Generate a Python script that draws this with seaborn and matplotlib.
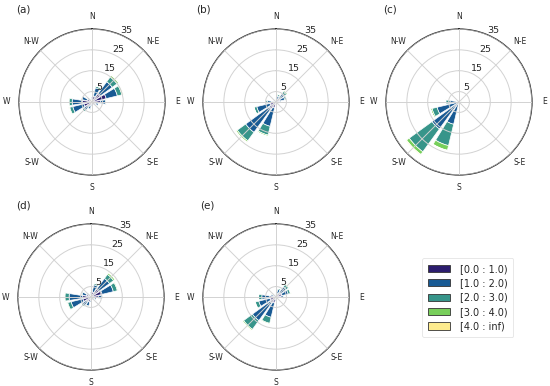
import numpy as np
import matplotlib
matplotlib.use("Agg")
import matplotlib.pyplot as plt
from matplotlib.patches import Patch
import seaborn as sns

sns.set_style("white")
plt.rcParams['font.family'] = ['DejaVu Sans']

# 16 sectors, clockwise from North
directions = ["N", "NNE", "NE", "ENE", "E", "ESE", "SE", "SSE",
              "S", "SSW", "SW", "WSW", "W", "WNW", "NW", "NNW"]
direction_deg = [0, 22.5, 45, 67.5, 90, 112.5, 135, 157.5,
                 180, 202.5, 225, 247.5, 270, 292.5, 315, 337.5]
speed_bins = ["[0.0 : 1.0)", "[1.0 : 2.0)", "[2.0 : 3.0)", "[3.0 : 4.0)", "[4.0 : inf)"]
compass_labels = ["N", "N-E", "E", "S-E", "S", "S-W", "W", "N-W"]
compass_deg = [0, 45, 90, 135, 180, 225, 270, 315]
radial_ticks = [5, 15, 25, 35]
panel_titles = ["(a)", "(b)", "(c)", "(d)", "(e)"]

# frequency (%) per speed bin (rows) and direction (columns)
freq_a = [
    [1.5, 3.0, 5.0, 7.0, 4.0, 2.0, 1.2, 1.2, 1.2, 2.0, 2.5, 4.0, 4.5, 2.5, 1.5, 1.2],
    [1.0, 4.0, 7.0, 5.5, 2.5, 1.2, 0.6, 0.6, 1.0, 1.5, 2.5, 5.5, 5.0, 2.5, 1.2, 0.6],
    [0.4, 0.8, 2.8, 2.2, 0.4, 0.3, 0.2, 0.2, 0.3, 0.4, 0.8, 1.5, 1.5, 0.4, 0.3, 0.2],
    [0.1, 0.2, 0.9, 0.6, 0.1, 0.05, 0.05, 0.05, 0.05, 0.1, 0.2, 0.4, 0.4, 0.1, 0.05, 0.05],
    [0.0, 0.05, 0.3, 0.2, 0.0, 0.0, 0.0, 0.0, 0.0, 0.0, 0.05, 0.1, 0.1, 0.0, 0.0, 0.0],
]
freq_b = [
    [1.0, 1.5, 2.0, 2.0, 1.5, 1.0, 0.8, 0.8, 1.0, 3.0, 4.0, 3.0, 2.0, 1.0, 0.8, 0.8],
    [0.7, 1.5, 3.0, 2.3, 1.0, 0.7, 0.5, 0.5, 0.7, 9.0, 14.0, 6.5, 2.2, 0.7, 0.5, 0.5],
    [0.2, 0.7, 1.3, 0.9, 0.4, 0.2, 0.15, 0.15, 0.25, 4.3, 5.0, 1.3, 0.7, 0.25, 0.15, 0.15],
    [0.05, 0.25, 0.6, 0.25, 0.1, 0.05, 0.0, 0.0, 0.05, 0.6, 0.7, 0.2, 0.1, 0.05, 0.0, 0.0],
    [0.0, 0.0, 0.1, 0.0, 0.0, 0.0, 0.0, 0.0, 0.0, 0.1, 0.3, 0.0, 0.0, 0.0, 0.0, 0.0],
]
freq_c = [
    [0.3, 0.3, 0.3, 0.3, 0.3, 0.3, 0.3, 0.3, 0.3, 1.0, 1.0, 0.8, 0.8, 0.4, 0.3, 0.3],
    [0.1, 0.3, 0.4, 0.3, 0.5, 0.3, 0.2, 0.3, 0.6, 10.0, 15.0, 10.0, 3.5, 0.6, 0.3, 0.1],
    [0.05, 0.1, 0.3, 0.2, 0.4, 0.2, 0.15, 0.2, 0.6, 10.5, 13.5, 2.5, 2.0, 0.4, 0.15, 0.05],
    [0.0, 0.0, 0.1, 0.0, 0.25, 0.0, 0.0, 0.1, 0.4, 2.3, 1.6, 0.7, 0.2, 0.0, 0.0, 0.0],
    [0.0, 0.0, 0.0, 0.0, 0.0, 0.0, 0.0, 0.0, 0.1, 0.2, 0.4, 0.0, 0.0, 0.0, 0.0, 0.0],
]
freq_d = [
    [1.5, 2.5, 4.5, 5.5, 3.5, 1.8, 1.2, 1.2, 1.5, 2.5, 2.5, 4.0, 4.0, 2.2, 1.5, 1.2],
    [1.0, 3.5, 6.5, 5.5, 2.0, 0.9, 0.6, 0.6, 1.1, 2.0, 2.7, 5.8, 6.5, 2.2, 1.1, 0.6],
    [0.4, 0.7, 2.4, 2.0, 0.4, 0.25, 0.15, 0.15, 0.3, 0.4, 0.6, 1.7, 2.0, 0.5, 0.3, 0.15],
    [0.1, 0.25, 0.8, 0.45, 0.1, 0.05, 0.0, 0.0, 0.1, 0.1, 0.2, 0.4, 0.4, 0.1, 0.05, 0.0],
    [0.0, 0.0, 0.3, 0.05, 0.0, 0.0, 0.0, 0.0, 0.0, 0.0, 0.0, 0.1, 0.1, 0.0, 0.0, 0.0],
]
freq_e = [
    [1.0, 1.7, 2.5, 3.0, 2.0, 1.0, 0.8, 0.8, 1.2, 3.0, 3.5, 3.0, 3.0, 1.5, 1.0, 0.8],
    [0.7, 2.0, 3.5, 3.0, 1.5, 0.7, 0.5, 0.5, 0.9, 7.0, 10.5, 5.5, 3.8, 1.1, 0.7, 0.5],
    [0.25, 0.6, 1.4, 1.1, 0.4, 0.25, 0.15, 0.15, 0.3, 3.0, 5.2, 1.7, 1.5, 0.35, 0.25, 0.15],
    [0.0, 0.15, 0.5, 0.35, 0.1, 0.0, 0.0, 0.0, 0.1, 0.45, 0.6, 0.3, 0.2, 0.05, 0.0, 0.0],
    [0.0, 0.0, 0.1, 0.05, 0.0, 0.0, 0.0, 0.0, 0.0, 0.05, 0.2, 0.0, 0.0, 0.0, 0.0, 0.0],
]
panels = [freq_a, freq_b, freq_c, freq_d, freq_e]

colors = sns.color_palette(["#2c1d6e", "#185a94", "#37958a", "#78cf5b", "#fdeb8e"])

W, H = 550, 386
fig = plt.figure(figsize=(W / 100, H / 100), dpi=100)

R = 73  # px radius
centers = [(92, 102), (276, 102), (459, 102), (91, 297), (276, 297)]
title_pos = [(16, 9), (196, 9), (383, 9), (16, 205), (200, 205)]

theta = np.deg2rad(direction_deg)
width = np.deg2rad(22.5 * 0.8)

for idx, (freq, (cx, cy)) in enumerate(zip(panels, centers)):
    ax = fig.add_axes([(cx - R) / W, 1 - (cy + R) / H, 2 * R / W, 2 * R / H],
                      projection="polar")
    ax.set_theta_zero_location("N")
    ax.set_theta_direction(-1)
    bottom = np.zeros(len(direction_deg))
    for j, vals in enumerate(freq):
        vals = np.array(vals)
        ax.bar(theta, vals, width=width, bottom=bottom, color=colors[j],
               edgecolor="white", linewidth=0.5, zorder=2)
        bottom = bottom + vals
    ax.set_ylim(0, 35)
    ax.set_rgrids(radial_ticks, [str(t) for t in radial_ticks], fontsize=6.8)
    ax.set_rlabel_position(22.5)
    ax.set_thetagrids(compass_deg, compass_labels, fontsize=5.5)
    ax.tick_params(axis="x", pad=-1.5)
    ax.grid(True, color="#d2d2d2", linewidth=0.7)
    ax.set_axisbelow(False)
    for gl in ax.get_xgridlines() + ax.get_ygridlines():
        gl.set_zorder(3)
    ax.spines["polar"].set_color("#2a2a2a")
    ax.spines["polar"].set_linewidth(0.9)
    tx, ty = title_pos[idx]
    fig.text(tx / W, 1 - ty / H, panel_titles[idx], fontsize=7.5, va="center", ha="left")

handles = [Patch(facecolor=colors[j], edgecolor="#333333", linewidth=0.6, label=speed_bins[j])
           for j in range(len(speed_bins))]
leg = fig.legend(handles=handles, loc="upper left", bbox_to_anchor=(422 / W, 1 - 258 / H),
                 borderaxespad=0, fontsize=7, frameon=True, handlelength=2.3,
                 handleheight=0.75, borderpad=0.6, labelspacing=0.45, handletextpad=1.0)
leg.get_frame().set_edgecolor("#dddddd")
leg.get_frame().set_linewidth(0.6)

fig.savefig("out.png", dpi=100)
